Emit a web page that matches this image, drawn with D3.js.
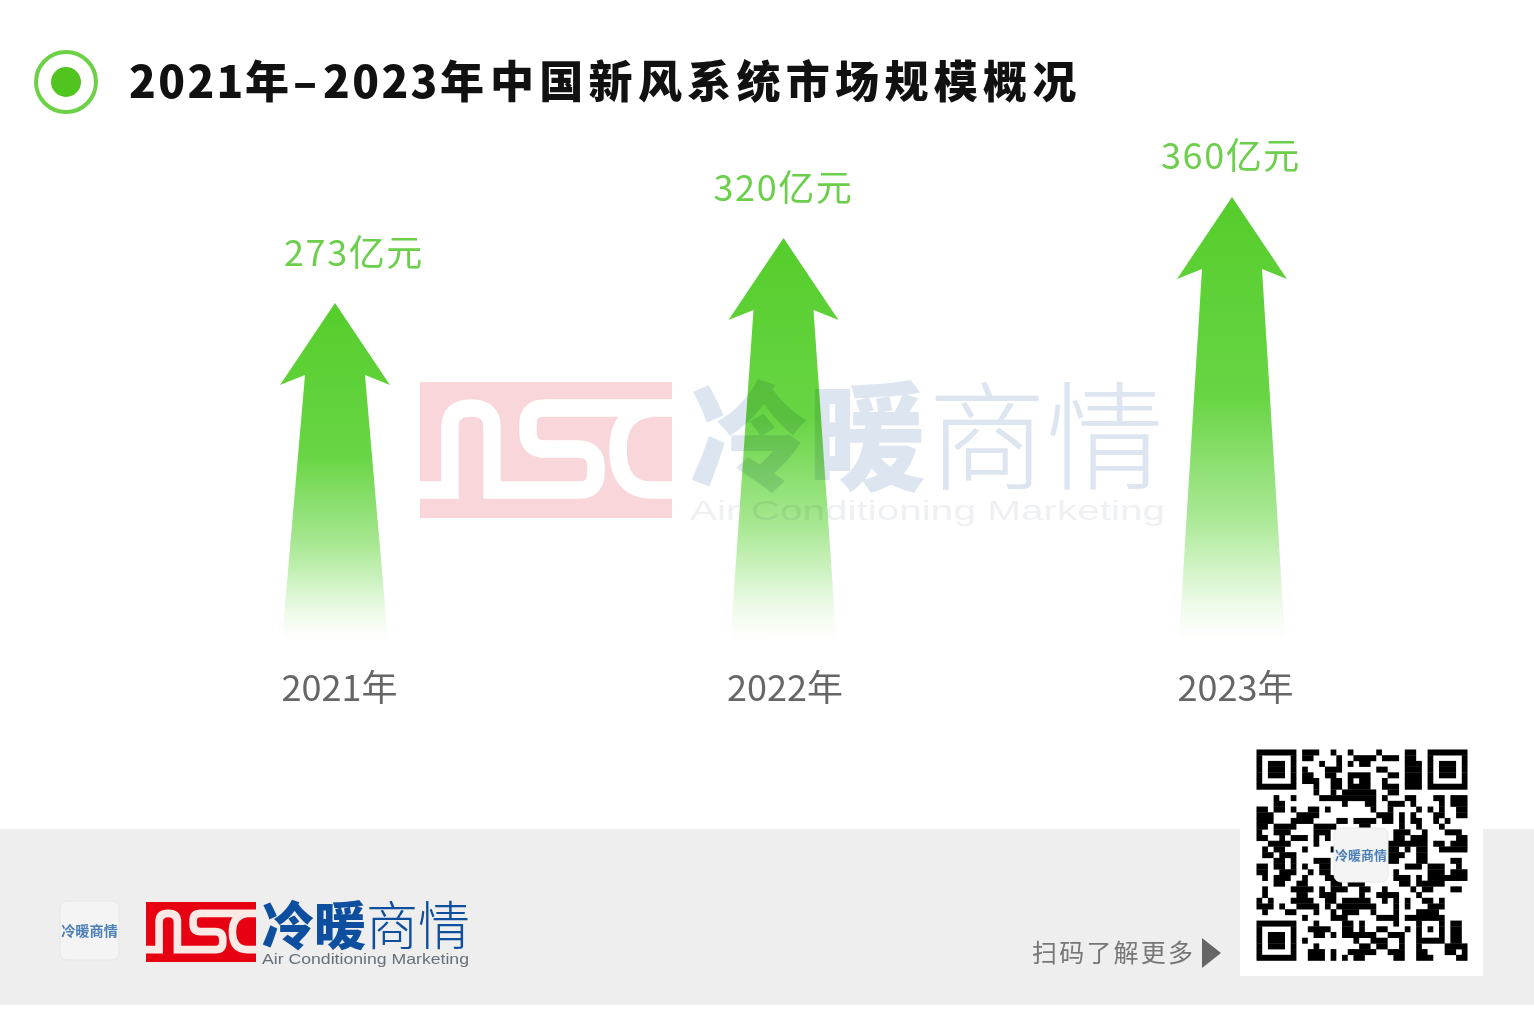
<!DOCTYPE html>
<html lang="zh"><head><meta charset="utf-8">
<script src="https://cdn.jsdelivr.net/npm/d3@7"></script>
<style>html,body{margin:0;padding:0;background:#fff;overflow:hidden}svg{display:block}text{font-family:"Noto Sans CJK SC","Noto Sans",sans-serif}</style>
</head><body><svg id="c" width="1534" height="1009"></svg>
<script>
const categories=["2021年","2022年","2023年"];
const values=[273,320,360];
const valueUnit="亿元";
const titleParts=["2021","年","–","2023","年","中国新风系统市场规模概况"];
const qrRuns=[
"0-6 8-10 13 16 21 26-27 30-36",
"0 6 8-9 14 17-20 22-24 26-27 30 36",
"0 2-4 6 11 14 16 18-19 26-28 30 32-34 36",
"0 2-4 6 8 12-14 21-22 26-28 30 32-34 36",
"0 2-4 6 8-9 12-13 16-19 23-24 26-28 30 32-34 36",
"0 6 8-10 13-14 16 18-19 22 26-28 30 36",
"0-6 10 13-14 16-19 22-24 26-28 30-36",
"10 13 15-20 23-24",
"3 6 11-20 22 26-27 31-32 34-36",
"3-4 15 19-20 23-25 27 32 34-36",
"0-1 3-4 6 9-10 12 20 23 28 30 32 35-36",
"0-2 7-10 21-23 25 27 31-32 35-36",
"0-2 6-9 14-15 17-20 22-23 25 27-28 31 33",
"0-1 3-6 10-13 18-19 25 28 32",
"0 3-5 10-12 24-26 29 33-35",
"0-1 4 6-8 10 12 24-25 27-29 35-36",
"2-5 10 23-29 31-32 34-36",
"1 3-4 8 13 23-24 26 28-29 32-36",
"1-2 4-6 23-25 28-29",
"3-4 6 10-12 23-24 28-29 34-35",
"0-1 3-4 6 8 11-12 26-28 30-32 35",
"0-1 4-6 9 11-12 24 30-32 34-36",
"1 3-5 8 12-13 24-26 28 30-36",
"3-4 7-8 13-14 16-18 25-26 28-32",
"1 6-9 11 13-15 18-19 22 27 29-30 34-35",
"1 7-8 11-13 18 21-24 28",
"0 2 6-9 12-13 15-19 22 24 26 29-30 32",
"0-2 4 7-10 12 14-20 24 26 30-32",
"1 5-6 10 13 15-17 20 24 28-31",
"8 13-15 21-24 26-32",
"0-6 10 15-16 18 24 28 32 34-35",
"0 6 9-12 15-16 18 21-22 26 28 30 32 34-35",
"0 2-4 6 10-11 13 15-20 23-25 28 32 34-35",
"0 2-4 6 8 17 20-22 25 28-32 34-35",
"0 2-4 6 10 18-19 21-22 25 28 33-36",
"0 6 9-11 13 16-20 23-25 28-29 33-34 36",
"0-6 9-11 13 15 17-18 24-25 28-30 35-36"
];

const svg=d3.select("#c");
const defs=svg.append("defs");
defs.append("filter").attr("id","soft").append("feGaussianBlur").attr("stdDeviation",0.7);
const grad=defs.append("linearGradient").attr("id","arrowFill").attr("x1",0).attr("y1",0).attr("x2",0).attr("y2",1);
[[0,"#55cd2b"],[0.45,"#68d544"],[0.72,"#a9e894"],[0.92,"#eefbe9"],[1,"#ffffff"]].forEach(s=>grad.append("stop").attr("offset",s[0]).attr("stop-color",s[1]));

// scales
const baseY=640;
const x=d3.scalePoint().domain(categories).range([335,1232]);
const y=d3.scaleLinear().domain(values).range([303,238,197]);

// footer
svg.append("rect").attr("x",0).attr("y",829).attr("width",1534).attr("height",176).attr("fill","#eeeeee");
svg.append("rect").attr("x",1240).attr("y",829).attr("width",243).attr("height",147).attr("fill","#fff");

// header
svg.append("circle").attr("cx",66).attr("cy",82).attr("r",30).attr("fill","none").attr("stroke","#6cd144").attr("stroke-width",4);
svg.append("circle").attr("cx",66).attr("cy",82).attr("r",15).attr("fill","#52c41f");
const titleX=[129,245,293,323,440,490], titleSpacing=[2.4,0,0,2.4,0,5.3];
const title=svg.append("g").attr("font-size",44).attr("font-weight",900).attr("fill","#111");
title.selectAll("text").data(titleParts).join("text").attr("x",(d,i)=>titleX[i]).attr("y",98)
 .attr("letter-spacing",(d,i)=>titleSpacing[i]).text(d=>d);

// arrows
const arrow=d3.line();
const arrowPts=(cat,v)=>{const c=x(cat),t=y(v);return [[c,t],[c+55,t+82],[c+30,t+72],[c+53,baseY],[c-53,baseY],[c-30,t+72],[c-55,t+82]];};
svg.append("g").selectAll("path").data(categories).join("path")
 .attr("d",(d,i)=>arrow(arrowPts(d,values[i]))+"Z").attr("fill","url(#arrowFill)");

// value labels
const labelDx=[19,0,-1], labelDy=[-37,-37,-28];
svg.append("g").selectAll("text").data(categories).join("text")
 .attr("x",(d,i)=>x(d)+labelDx[i]).attr("y",(d,i)=>y(values[i])+labelDy[i])
 .attr("text-anchor","middle").attr("font-size",36).attr("letter-spacing",1.6).attr("fill","#6ccf4c")
 .text((d,i)=>values[i]+valueUnit);

// category axis
const axisG=svg.append("g").attr("transform",`translate(0,${baseY})`)
 .call(d3.axisBottom(x).tickSize(0).tickPadding(24));
axisG.select(".domain").remove();
const catDx=[4,1,3];
axisG.selectAll("text").attr("dx",(d,i)=>catDx[i]).attr("dy",0).attr("font-size",36).attr("fill","#666").style("font-family",'"Noto Sans CJK SC"').attr("y",61).attr("dominant-baseline","auto");

// logo
function nsc(g,bx,by,w,h,color,sw){
 const sx=w/252,sy=h/136;
 g.append("rect").attr("x",bx).attr("y",by).attr("width",w).attr("height",h).attr("fill",color);
 g.append("path").attr("transform",`translate(${bx},${by}) scale(${sx},${sy})`)
  .attr("fill","none").attr("stroke",sw).attr("stroke-width",17.5)
  .attr("d","M0,108H30V45Q30,26 51,26Q72,26 72,45V108H160Q176,108 176,90V85Q176,67 158,67H125Q108,67 108,50V42Q108,26 125,26H252M252,26H232Q198,30 198,67Q198,108 232,108H252");
}
function logoWords(g,lx,top,size,color,ecolor,eLen,eSize,gap){
 g.append("text").attr("x",lx).attr("y",top+size*0.86).attr("font-size",size).attr("font-weight",900).attr("fill",color).text("冷暖");
 g.append("text").attr("x",lx+size*2+gap).attr("y",top+size*0.86).attr("font-size",size).attr("font-weight",200).attr("fill",color).text("商情");
 g.append("text").attr("x",lx).attr("y",top+size+eSize*0.8).attr("font-size",eSize).attr("fill",ecolor).attr("font-weight",300)
  .attr("textLength",eLen).attr("lengthAdjust","spacingAndGlyphs").style("font-family",'"Liberation Sans"').text("Air Conditioning Marketing");
}
const wm=svg.append("g").style("mix-blend-mode","multiply");
nsc(wm,420,382,252,136,"#f9d6da","#fff");
logoWords(wm,690,380,118,"#dde6f0","#eef0f3",475,28,2);

const foot=svg.append("g");
nsc(foot,146,902,110,60,"#e60012","#fbe9e6");
logoWords(foot,262,900,52,"#0d4f9e","#66707c",207,15,0);

// small logo
function badge(g,bx,by,s){
 g.append("rect").attr("x",bx).attr("y",by).attr("width",s).attr("height",s).attr("rx",7).attr("fill","#f4f4f4").attr("stroke","#e6e6e6");
 g.append("text").attr("x",bx+s/2).attr("y",by+s/2+5).attr("text-anchor","middle").attr("font-size",s*0.24).attr("font-weight",700).attr("fill","#4c7fb8").attr("filter","url(#soft)").text("冷暖商情");
}
badge(svg.append("g"),60,901,59);

// scan text
svg.append("text").attr("x",1032).attr("y",962).attr("font-size",25).attr("letter-spacing",2.2).attr("fill","#777").text("扫码了解更多");
svg.append("path").attr("d",d3.line()([[1202,938],[1221,953],[1202,968]])+"Z").attr("fill","#666");

// QR
const q=d3.scaleBand().domain(d3.range(37)).range([0,211]).padding(0);
const qrCells=qrRuns.flatMap((r,ri)=>r.split(" ").map(t=>{const p=t.split("-").map(Number);return {row:ri,from:p[0],to:p[p.length-1]};}));
svg.append("g").attr("transform","translate(1256.5,749.5)").attr("filter","url(#soft)")
 .selectAll("rect").data(qrCells).join("rect")
 .attr("x",d=>q(d.from)).attr("y",d=>q(d.row))
 .attr("width",d=>q(d.to)-q(d.from)+q.bandwidth()).attr("height",q.bandwidth()+0.3).attr("fill","#000");
badge(svg.append("g"),1334,828,54);
</script></body></html>
